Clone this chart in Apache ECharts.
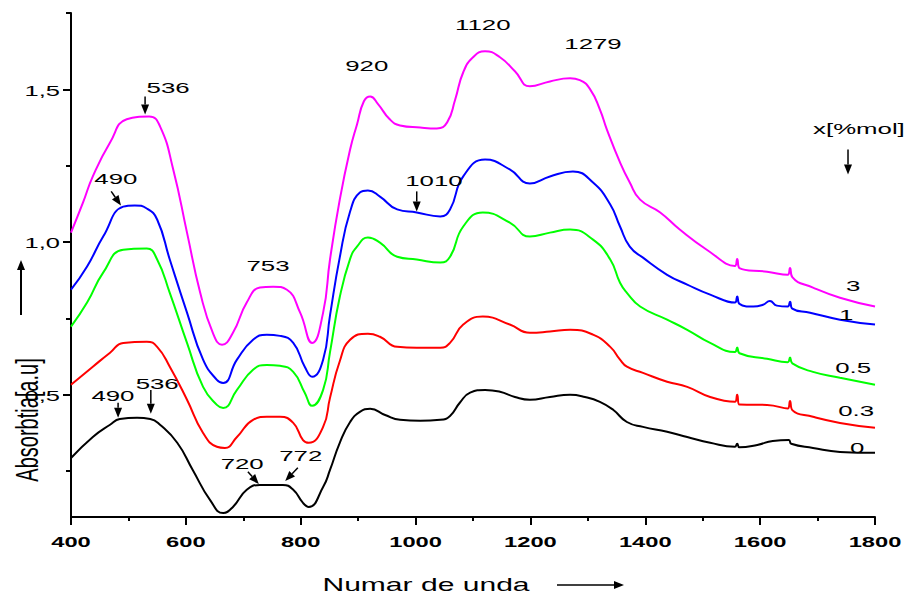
<!DOCTYPE html>
<html>
<head>
<meta charset="utf-8">
<script src="https://cdn.jsdelivr.net/npm/echarts@6/dist/echarts.min.js"></script>
<style>
html, body { margin: 0; padding: 0; background: #fff; }
#chart { width: 915px; height: 596px; }
</style>
</head>
<body>
<div id="chart"></div>
<script>
// x = 0 (black)
const x0 = [400,438,468,485,515,538,555,585,612,642,665,682,706,729,769,787,804,814,839,851,868,886,903,921,947,973,1008,1043,1060,1077,1095,1121,1147,1173,1199,1234,1269,1295,1321,1344,1368,1396,1438,1473,1513,1556,1560,1564,1595,1622,1650,1654,1692,1739,1800]
const y0 = [0.293,0.362,0.402,0.421,0.425,0.421,0.402,0.343,0.254,0.156,0.113,0.133,0.189,0.205,0.205,0.189,0.146,0.133,0.198,0.254,0.343,0.411,0.444,0.454,0.434,0.418,0.415,0.418,0.431,0.474,0.507,0.516,0.510,0.493,0.484,0.493,0.500,0.493,0.477,0.451,0.411,0.395,0.379,0.362,0.343,0.330,0.340,0.328,0.336,0.349,0.352,0.340,0.326,0.313,0.310]
// x = 0.3 (red)
const x1 = [400,438,468,491,532,550,572,602,630,654,668,689,717,741,764,787,804,814,839,851,868,886,917,938,968,1002,1043,1060,1083,1117,1164,1199,1234,1269,1309,1339,1356,1368,1396,1438,1473,1513,1556,1560,1564,1612,1648,1652,1656,1692,1739,1800]
const y1 = [0.533,0.592,0.638,0.670,0.674,0.657,0.592,0.484,0.375,0.330,0.326,0.362,0.418,0.428,0.428,0.408,0.352,0.343,0.395,0.490,0.610,0.680,0.700,0.690,0.657,0.654,0.654,0.670,0.730,0.756,0.730,0.703,0.707,0.713,0.697,0.657,0.615,0.592,0.572,0.543,0.526,0.493,0.477,0.500,0.468,0.467,0.455,0.480,0.450,0.428,0.408,0.392]
// x = 0.5 (green)
const x2 = [400,428,456,491,532,550,572,602,630,654,665,689,717,741,764,787,807,820,839,851,868,886,898,917,938,968,1002,1043,1060,1083,1117,1164,1199,1234,1269,1309,1339,1356,1368,1391,1438,1473,1513,1556,1560,1564,1612,1648,1652,1656,1692,1739,1800]
const y2 = [0.723,0.802,0.900,0.975,0.979,0.943,0.834,0.670,0.526,0.467,0.457,0.516,0.582,0.598,0.595,0.575,0.507,0.464,0.516,0.640,0.820,0.945,0.985,1.015,0.998,0.952,0.943,0.933,0.952,1.051,1.097,1.064,1.018,1.031,1.041,1.008,0.943,0.867,0.834,0.789,0.746,0.713,0.670,0.640,0.655,0.636,0.618,0.607,0.622,0.603,0.575,0.556,0.533]
// x = 1 (blue)
const x3 = [400,428,456,491,511,532,550,572,602,630,654,665,689,717,741,764,787,807,820,839,851,868,886,903,917,938,968,1002,1043,1060,1083,1121,1164,1199,1234,1274,1309,1339,1356,1373,1396,1438,1473,1513,1556,1560,1564,1588,1605,1617,1629,1648,1652,1656,1687,1739,1800]
const y3 = [0.844,0.920,1.018,1.116,1.120,1.110,1.074,0.943,0.769,0.615,0.549,0.539,0.615,0.680,0.697,0.693,0.670,0.592,0.559,0.615,0.760,0.950,1.100,1.162,1.169,1.149,1.107,1.097,1.084,1.107,1.215,1.270,1.238,1.192,1.215,1.231,1.195,1.123,1.051,0.985,0.949,0.893,0.861,0.828,0.802,0.822,0.798,0.789,0.795,0.807,0.792,0.789,0.805,0.782,0.769,0.746,0.730]
// x = 3 (magenta)
const x4 = [400,421,438,468,497,536,555,578,602,625,647,663,682,706,729,752,776,799,820,839,851,868,886,898,910,921,935,955,973,1008,1037,1055,1069,1083,1100,1121,1147,1173,1199,1234,1269,1286,1304,1321,1333,1356,1373,1391,1426,1460,1507,1556,1560,1564,1612,1648,1652,1656,1692,1739,1800]
const y4 = [1.031,1.130,1.215,1.326,1.402,1.411,1.379,1.238,1.031,0.834,0.703,0.664,0.703,0.802,0.851,0.854,0.844,0.769,0.670,0.769,0.943,1.139,1.303,1.385,1.461,1.477,1.451,1.402,1.382,1.375,1.372,1.392,1.467,1.556,1.605,1.625,1.605,1.559,1.510,1.526,1.536,1.530,1.500,1.434,1.369,1.261,1.195,1.139,1.097,1.041,0.975,0.922,0.945,0.915,0.903,0.893,0.915,0.885,0.851,0.818,0.789]

const seriesNames = ['0', '0.3', '0.5', '1', '3']
const seriesColors = ['#000000', '#ff0000', '#00ff00', '#0000ff', '#ff00ff']

const xTicks = [400, 600, 800, 1000, 1200, 1400, 1600, 1800]
const yTicks = [0.5, 1.0, 1.5]
const yTickLabels = ['0,5', '1,0', '1,5']
const yMinorTicks = [0.25, 0.75, 1.25, 1.75]

// peak labels: text, anchor [wavenumber, absorbance]
const peakLabels = [
  ['536', [569, 1.507]], ['490', [478, 1.208]], ['753', [743, 0.923]],
  ['920', [915, 1.579]], ['1120', [1117, 1.713]], ['1279', [1309, 1.651]],
  ['1010', [1032, 1.202]], ['490', [473, 0.497]], ['536', [550, 0.536]],
  ['720', [698, 0.274]], ['772', [800, 0.300]], ['x[%mol]', [1772, 1.372]],
  ['3', [1762, 0.857]], ['1', [1750, 0.762]], ['0.5', [1762, 0.589]],
  ['0.3', [1767, 0.448]], ['0', [1769, 0.326]]
]
const peakArrows = [
  [[529, 1.477], [529, 1.418]], [[470, 1.166], [487, 1.120]],
  [[1002, 1.166], [1002, 1.100]], [[482, 0.474], [482, 0.425]],
  [[539, 0.516], [539, 0.438]], [[708, 0.248], [727, 0.208]],
  [[795, 0.261], [773, 0.218]], [[1753, 1.303], [1753, 1.221]]
]

const xs = [x0, x1, x2, x3, x4]
const ys = [y0, y1, y2, y3, y4]

const chart = echarts.init(document.getElementById('chart'), null, {renderer: 'svg'})

chart.setOption({
  animation: false,
  backgroundColor: '#fff',
  grid: {left: 71, right: 40, top: 13, bottom: 79},
  xAxis: {
    type: 'value', min: 400, max: 1800, interval: 200,
    axisLine: {lineStyle: {color: '#000', width: 2}},
    axisTick: {length: 8, lineStyle: {color: '#000', width: 2}},
    minorTick: {show: true, splitNumber: 2, length: 4, lineStyle: {color: '#000', width: 2}},
    axisLabel: {show: false},
    splitLine: {show: false}
  },
  yAxis: [
    {
      type: 'value', min: 0.1, max: 1.75,
      axisLine: {show: true, lineStyle: {color: '#000', width: 2}},
      axisTick: {show: true, length: 8, customValues: yTicks, lineStyle: {color: '#000', width: 2}},
      axisLabel: {show: false},
      splitLine: {show: false}
    },
    {
      type: 'value', min: 0.1, max: 1.75, position: 'left',
      axisLine: {show: false},
      axisTick: {show: true, length: 5, customValues: yMinorTicks, lineStyle: {color: '#000', width: 2}},
      axisLabel: {show: false},
      splitLine: {show: false}
    }
  ],
  series: xs.map((x, k) => ({
    name: seriesNames[k],
    type: 'line',
    data: x.map((v, i) => [v, ys[k][i]]),
    showSymbol: false,
    smooth: 0.5,
    lineStyle: {color: seriesColors[k], width: 2},
    z: 2 + k
  }))
})

function px(p) {
  return chart.convertToPixel({gridIndex: 0}, p)
}

function txt(text, x, y, o) {
  o = o || {}
  return {
    type: 'text', x: x, y: y,
    scaleX: o.sx || 1.72, scaleY: o.sy || 1, rotation: o.rot || 0,
    z: 50,
    style: {
      text: text, fill: '#000',
      font: o.font || '15px "Liberation Sans", Arial, sans-serif',
      align: o.align || 'center', textAlign: o.align || 'center',
      verticalAlign: 'middle', textVerticalAlign: 'middle'
    }
  }
}

function arrow(p0, p1, w) {
  const dx = p1[0] - p0[0], dy = p1[1] - p0[1]
  const len = Math.hypot(dx, dy)
  const ux = dx / len, uy = dy / len
  const hl = 10, hw = 4
  const bx = p1[0] - ux * hl, by = p1[1] - uy * hl
  return [
    {type: 'line', z: 50, shape: {x1: p0[0], y1: p0[1], x2: bx, y2: by}, style: {stroke: '#000', lineWidth: w || 1.5}},
    {type: 'polygon', z: 50, shape: {points: [[p1[0], p1[1]], [bx - uy * hw, by + ux * hw], [bx + uy * hw, by - ux * hw]]}, style: {fill: '#000'}}
  ]
}

const g = []
const yBottom = px([400, 0.1])[1]
xTicks.forEach(v => {
  g.push(txt(String(v), px([v, 0.1])[0], yBottom + 25, {font: 'bold 15px "Liberation Sans", Arial, sans-serif', sx: 1.58}))
})
yTicks.forEach((v, i) => {
  g.push(txt(yTickLabels[i], 60, px([400, v])[1] + 1, {align: 'right', sx: 1.7}))
})
peakLabels.forEach(l => {
  const p = px(l[1])
  g.push(txt(l[0], p[0], p[1]))
})
peakArrows.forEach(a => {
  arrow(px(a[0]), px(a[1])).forEach(e => g.push(e))
})
// axis titles
g.push(txt('Numar de unda', 426, 585, {font: '18px "Liberation Sans", Arial, sans-serif', sx: 1.67}))
arrow([557, 585], [624, 585], 1.5).forEach(e => g.push(e))
g.push(txt('Absorbtia[a.u]', 27, 420, {font: '20px "Liberation Sans", Arial, sans-serif', sx: 1, sy: 1.6, rot: Math.PI / 2}))
arrow([21, 315], [21, 260], 2).forEach(e => g.push(e))

chart.setOption({graphic: {elements: g}})
</script>
</body>
</html>
